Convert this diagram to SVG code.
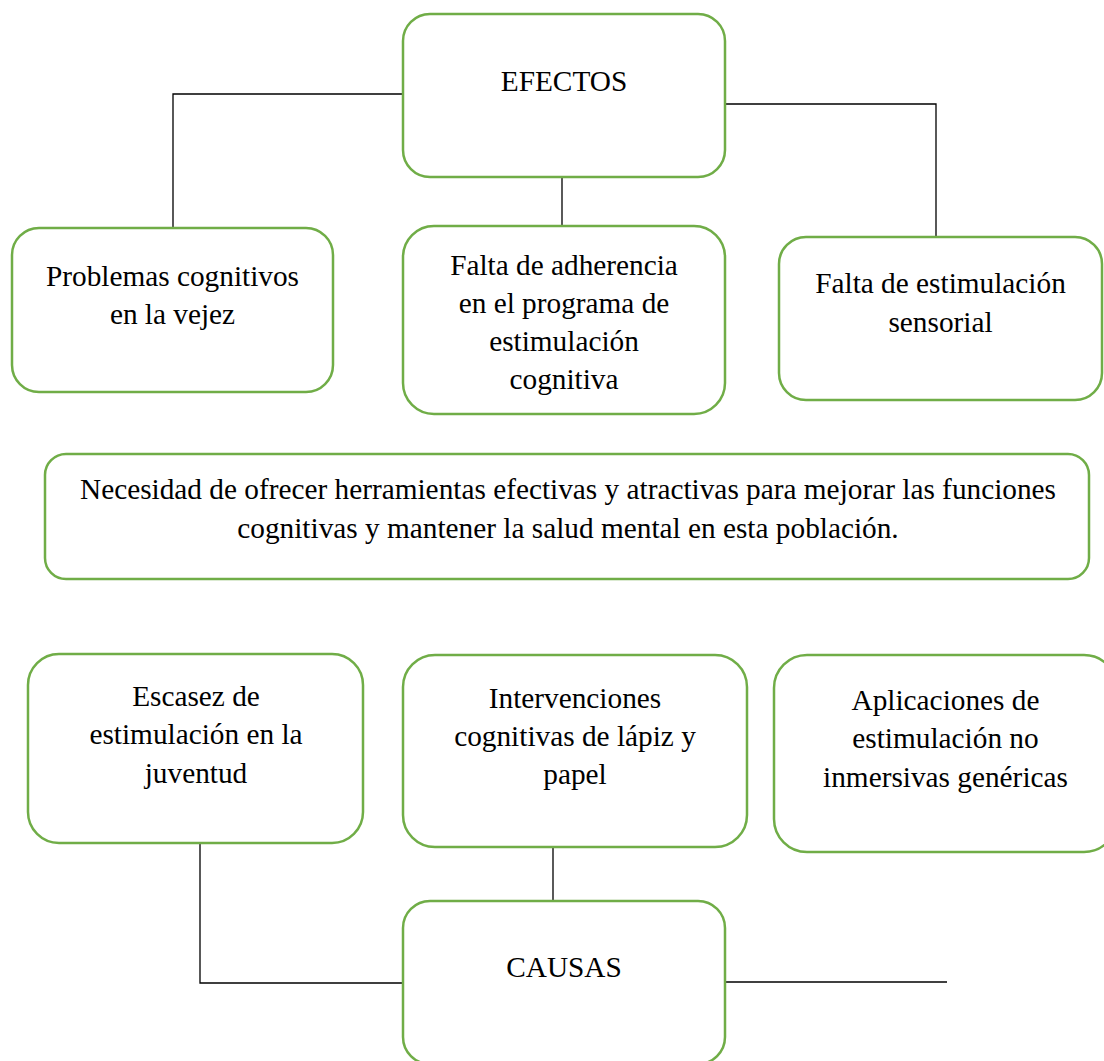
<svg xmlns="http://www.w3.org/2000/svg" width="1104" height="1061" viewBox="0 0 1104 1061">
<style>
.box{fill:#fff;stroke:#70AD47;stroke-width:2.5}
.t{font-family:"Liberation Serif","Times New Roman",serif;font-size:29.3px;fill:#000;text-anchor:middle}
.c{fill:none;stroke:#000;stroke-width:1.3}
</style>
<rect width="1104" height="1061" fill="#fff"/>
<g id="connectors">
<polyline class="c" points="173,228 173,94 403,94"/>
<polyline class="c" points="725,104 936,104 936,237"/>
<line class="c" x1="562" y1="177" x2="562" y2="226"/>
<polyline class="c" points="200,843 200,983 403,983"/>
<line class="c" x1="553" y1="847" x2="553" y2="902"/>
<line class="c" x1="725" y1="982" x2="947" y2="982" stroke-width="1.8"/>
</g>
<g id="efectos">
<rect class="box" x="403" y="14" width="322" height="163" rx="27"/>
<text class="t" x="564" y="91">EFECTOS</text>
</g>
<g id="problemas">
<rect class="box" x="12" y="228" width="321" height="164" rx="27"/>
<text class="t" x="172.5" y="286">Problemas cognitivos</text>
<text class="t" x="172.5" y="324">en la vejez</text>
</g>
<g id="adherencia">
<rect class="box" x="403" y="226" width="322" height="188" rx="31"/>
<text class="t" x="564" y="275">Falta de adherencia</text>
<text class="t" x="564" y="313">en el programa de</text>
<text class="t" x="564" y="351">estimulación</text>
<text class="t" x="564" y="389">cognitiva</text>
</g>
<g id="sensorial">
<rect class="box" x="779" y="237" width="323" height="163" rx="27"/>
<text class="t" x="940.5" y="293">Falta de estimulación</text>
<text class="t" x="940.5" y="332">sensorial</text>
</g>
<g id="necesidad">
<rect class="box" x="45" y="454" width="1044" height="125" rx="21"/>
<text class="t" x="568" y="499">Necesidad de ofrecer herramientas efectivas y atractivas para mejorar las funciones</text>
<text class="t" x="568" y="538">cognitivas y mantener la salud mental en esta población.</text>
</g>
<g id="escasez">
<rect class="box" x="28" y="654" width="335" height="189" rx="31"/>
<text class="t" x="196" y="706">Escasez de</text>
<text class="t" x="196" y="744">estimulación en la</text>
<text class="t" x="196" y="783">juventud</text>
</g>
<g id="intervenciones">
<rect class="box" x="403" y="655" width="344" height="192" rx="32"/>
<text class="t" x="575" y="708">Intervenciones</text>
<text class="t" x="575" y="746">cognitivas de lápiz y</text>
<text class="t" x="575" y="784">papel</text>
</g>
<g id="aplicaciones">
<rect class="box" x="774" y="655" width="343" height="197" rx="33"/>
<text class="t" x="945.5" y="710">Aplicaciones de</text>
<text class="t" x="945.5" y="748">estimulación no</text>
<text class="t" x="945.5" y="787">inmersivas genéricas</text>
</g>
<g id="causas">
<rect class="box" x="403" y="901" width="322" height="163" rx="27"/>
<text class="t" x="564" y="977">CAUSAS</text>
</g>
</svg>
